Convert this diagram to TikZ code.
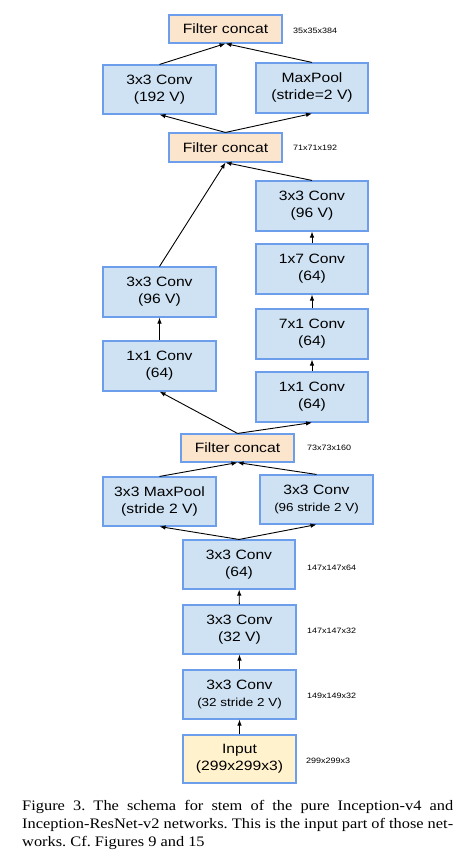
\documentclass[tikz,border=0pt]{standalone}
\usepackage{fontspec}
\setmainfont[FakeStretch=1.13]{Liberation Serif}
\newfontfamily\boxfont[FakeStretch=1.16]{Liberation Sans}
\usetikzlibrary{arrows.meta}
\definecolor{boxblue}{HTML}{CFE2F3}
\definecolor{edgeblue}{HTML}{6D9EEB}
\definecolor{concatfill}{HTML}{FCE5CD}
\definecolor{inputfill}{HTML}{FFF2CC}
\tikzset{
  layer/.style={draw=edgeblue, line width=1.1pt, fill=boxblue, align=center,
    minimum width=113pt, minimum height=49pt, inner sep=0pt,
    font=\boxfont\fontsize{13.5}{17}\selectfont},
  concat/.style={layer, fill=concatfill, minimum height=28pt},
  inputbox/.style={layer, fill=inputfill},
  dimlabel/.style={anchor=west, inner sep=0pt, font=\boxfont\fontsize{7.75}{9}\selectfont},
  flow/.style={draw=black, line width=0.9pt, -{Latex[length=6pt,width=4.5pt]}},
}
\newcommand{\smallline}[1]{{\fontsize{11.6}{15}\selectfont #1}}
\begin{document}
\frenchspacing
\begin{tikzpicture}[x=1pt, y=-1pt]
\useasboundingbox (0,0) rectangle (466,866);
\fill[white] (0,0) rectangle (466,866);
% nodes
\node[concat] (fc1) at (225.5,29) {Filter concat};
\node[layer] (c192) at (159.5,89.5) {3x3 Conv\\(192 V)};
\node[layer, minimum width=112pt, minimum height=50pt] (mp) at (312,88) {MaxPool\\(stride=2 V)};
\node[concat, minimum height=29pt] (fc2) at (225.5,147.5) {Filter concat};
\node[layer, minimum width=112pt, minimum height=50pt] (r3) at (312,206) {3x3 Conv\\(96 V)};
\node[layer, minimum width=112pt, minimum height=50pt] (r2) at (312,269) {1x7 Conv\\(64)};
\node[layer, minimum width=112pt, minimum height=50pt] (r1) at (312,334) {7x1 Conv\\(64)};
\node[layer, minimum width=112pt, minimum height=50pt] (r0) at (312,397) {1x1 Conv\\(64)};
\node[layer, minimum height=50pt] (l2) at (159.5,292) {3x3 Conv\\(96 V)};
\node[layer, minimum height=50pt] (l1) at (159.5,366) {1x1 Conv\\(64)};
\node[concat] (fc3) at (237.5,448) {Filter concat};
\node[layer] (mp2) at (159.5,501.5) {3x3 MaxPool\\(stride 2 V)};
\node[layer] (c96s) at (316.5,499.5) {3x3 Conv\\\smallline{(96 stride 2 V)}};
\node[layer, minimum width=112pt] (c64) at (239,564.5) {3x3 Conv\\(64)};
\node[layer] (c32v) at (239.5,629.5) {3x3 Conv\\(32 V)};
\node[layer] (c32s) at (239.5,694.5) {3x3 Conv\\\smallline{(32 stride 2 V)}};
\node[inputbox, minimum height=48pt] (inp) at (239.5,759) {Input\\(299x299x3)};
% dimension labels
\node[dimlabel] (d1) at (293,31) {35x35x384};
\node[dimlabel] (d2) at (293,148) {71x71x192};
\node[dimlabel] (d3) at (307,448) {73x73x160};
\node[dimlabel] (d4) at (307,568) {147x147x64};
\node[dimlabel] (d5) at (307,631) {147x147x32};
\node[dimlabel] (d6) at (307,696) {149x149x32};
\node[dimlabel] (d7) at (306,761) {299x299x3};
% connectors
\draw[flow] (inp) -- (c32s);
\draw[flow] (c32s) -- (c32v);
\draw[flow] (c32v) -- (c64);
\draw[flow] (c64.north) -- (mp2.south);
\draw[flow] (c64.north) -- (c96s.south);
\draw[flow] (mp2.north) -- (fc3.south);
\draw[flow] (c96s.north) -- (fc3.south);
\draw[flow] (fc3.north) -- (l1.south);
\draw[flow] (fc3.north) -- (r0.south);
\draw[flow] (l1) -- (l2);
\draw[flow] (r0) -- (r1);
\draw[flow] (r1) -- (r2);
\draw[flow] (r2) -- (r3);
\draw[flow] (l2.north) -- (fc2.south);
\draw[flow] (r3.north) -- (fc2.south);
\draw[flow] (fc2.north) -- (c192.south);
\draw[flow] (fc2.north) -- (mp.south);
\draw[flow] (c192.north) -- (fc1.south);
\draw[flow] (mp.north) -- (fc1.south);
% caption
\node[anchor=north west, inner sep=0pt, align=left,
      font=\fontsize{14.5}{17.6}\selectfont] (cap) at (22,800.5)
  {\makebox[431pt][s]{Figure 3. The schema for stem of the pure Inception-v4 and}\\
   \makebox[431pt][s]{Inception-ResNet-v2 networks. This is the input part of those net-}\\
   works. Cf. Figures 9 and 15};
\end{tikzpicture}
\end{document}
